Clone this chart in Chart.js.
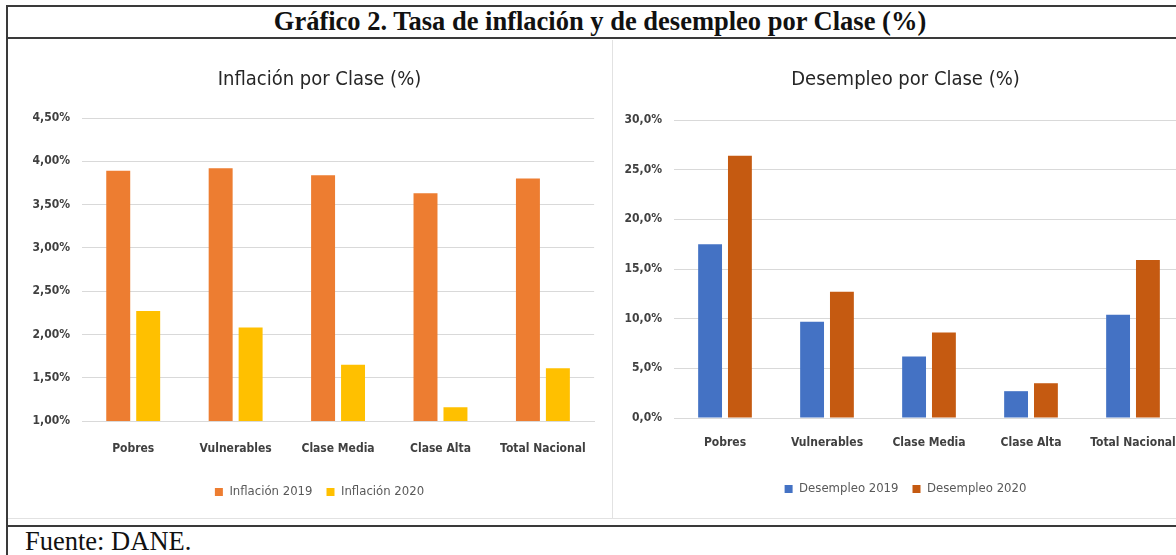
<!DOCTYPE html>
<html>
<head>
<meta charset="utf-8">
<script src="https://cdn.jsdelivr.net/npm/chart.js@4.4.1/dist/chart.umd.min.js"></script>
<style>
  body { margin: 0; width: 1176px; height: 555px; overflow: hidden; background: #fff; position: relative; }
  .line { position: absolute; background: #3a3a3a; }
  #mainTitle { position: absolute; left: 12px; width: 1176px; top: 6px; text-align: center; line-height: 30px;
    font: bold 26.5px "Liberation Serif", "DejaVu Serif", serif; color: #111; white-space: nowrap; }
  #source { position: absolute; left: 25px; top: 526px; line-height: 30px;
    font: 26.5px "Liberation Serif", serif; color: #111; }
  #leftChart { position: absolute; left: 8px; top: 40px; }
  #rightChart { position: absolute; left: 613px; top: 40px; }
  #panelEdge { position: absolute; left: 612px; top: 40px; width: 1px; height: 478px; background: #e2e2e2; }
  #panelBottom { position: absolute; left: 8px; top: 518px; width: 1168px; height: 1px; background: #e2e2e2; }
</style>
</head>
<body>
<div class="line" style="left:6px;top:5px;width:1170px;height:2px"></div>
<div class="line" style="left:6px;top:37px;width:1170px;height:2px"></div>
<div class="line" style="left:6px;top:525px;width:1170px;height:2px"></div>
<div class="line" style="left:6px;top:5px;width:2px;height:550px"></div>
<div id="mainTitle">Gráfico 2. Tasa de inflación y de desempleo por Clase (%)</div>
<div id="panelEdge"></div>
<div id="panelBottom"></div>
<canvas id="leftChart" width="600" height="478"></canvas>
<canvas id="rightChart" width="590" height="478"></canvas>
<div id="source">Fuente: DANE.</div>
<script>
const clases = ['Pobres', 'Vulnerables', 'Clase Media', 'Clase Alta', 'Total Nacional'];
const inflacion2019 = [3.89, 3.92, 3.84, 3.63, 3.80];
const inflacion2020 = [2.27, 2.08, 1.65, 1.16, 1.61];
const desempleo2019 = [17.5, 9.7, 6.2, 2.7, 10.4];
const desempleo2020 = [26.4, 12.7, 8.6, 3.5, 15.9];

const fontFam = '"Liberation Sans Narrow", "DejaVu Sans Condensed", sans-serif';
const gridColor = '#d9d9d9';

// nudge title and legend sideways (they are centred on the plot in the original)
const shiftBoxes = {
    id: 'shiftBoxes',
    afterLayout(chart, args, o) {
        [chart.titleBlock, chart.legend].forEach(b => {
            if (b) { b.left += o.dx; b.right += o.dx; }
        });
    }
};

function makeChart(id, opts) {
    const ctx = document.getElementById(id).getContext('2d');
    return new Chart(ctx, {
        type: 'bar',
        data: {
            labels: clases,
            datasets: opts.datasets.map(d => ({
                label: d.label,
                data: d.data,
                backgroundColor: d.color,
                borderWidth: 0,
                categoryPercentage: 0.585,
                barPercentage: 0.8
            }))
        },
        plugins: [shiftBoxes],
        options: {
            responsive: false,
            animation: false,
            layout: { padding: opts.padding },
            plugins: {
                shiftBoxes: { dx: opts.dx },
                title: {
                    display: true,
                    text: opts.title,
                    color: '#262626',
                    font: { family: fontFam, size: 20, weight: 'normal' },
                    padding: opts.titlePadding
                },
                legend: {
                    position: 'bottom',
                    labels: {
                        color: '#595959',
                        font: { family: fontFam, size: 13 },
                        boxWidth: 8,
                        boxHeight: 8,
                        padding: 14
                    }
                },
                tooltip: { enabled: false }
            },
            scales: {
                x: {
                    grid: { display: false, drawTicks: false },
                    border: { color: gridColor },
                    ticks: {
                        color: '#404040',
                        font: { family: fontFam, size: 12, weight: 'bold' },
                        padding: opts.xPad,
                        maxRotation: 0,
                        autoSkip: false
                    },
                    afterFit: s => { s.height = opts.xHeight; }
                },
                y: {
                    min: opts.min,
                    max: opts.max,
                    grid: { color: gridColor, drawTicks: false },
                    border: { display: false },
                    ticks: {
                        stepSize: opts.step,
                        color: '#404040',
                        font: { family: fontFam, size: 12, weight: 'bold' },
                        padding: 12,
                        callback: v => v.toFixed(opts.decimals).replace('.', ',') + '%'
                    },
                    afterFit: s => { s.width = opts.yWidth; }
                }
            }
        }
    });
}

makeChart('leftChart', {
    title: 'Inflación por Clase (%)',
    datasets: [
        { label: 'Inflación 2019', data: inflacion2019, color: '#ED7D31' },
        { label: 'Inflación 2020', data: inflacion2020, color: '#FFC000' }
    ],
    min: 1, max: 4.5, step: 0.5, decimals: 2,
    padding: { left: 0, right: 13, top: 0, bottom: 9.5 },
    titlePadding: { top: 28, bottom: 26 },
    xPad: 21, xHeight: 50.5, yWidth: 74, dx: 18
});

makeChart('rightChart', {
    title: 'Desempleo por Clase (%)',
    datasets: [
        { label: 'Desempleo 2019', data: desempleo2019, color: '#4472C4' },
        { label: 'Desempleo 2020', data: desempleo2020, color: '#C55A11' }
    ],
    min: 0, max: 30, step: 5, decimals: 1,
    padding: { left: 0, right: 19, top: 0, bottom: 12.5 },
    titlePadding: { top: 28, bottom: 28 },
    xPad: 18, xHeight: 50.5, yWidth: 61, dx: 7
});
</script>
</body>
</html>
